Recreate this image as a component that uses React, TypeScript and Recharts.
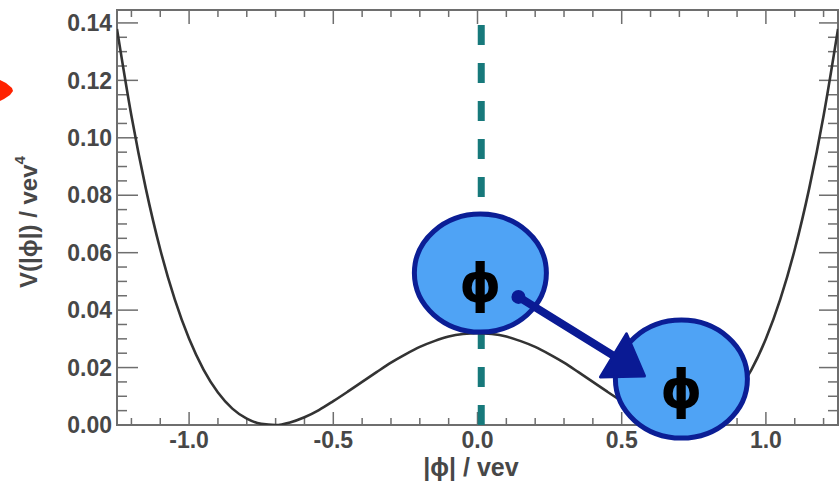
import { LineChart, Line, XAxis, YAxis, ReferenceLine, ReferenceArea, ReferenceDot } from 'recharts';

// field value |phi| / vev and the potential
const phiValues = [
  -1.25, -1.2, -1.15, -1.1, -1.05, -1.0, -0.95, -0.9, -0.85, -0.8, -0.75, -0.7, -0.65,
  -0.6, -0.55, -0.5, -0.45, -0.4, -0.35, -0.3, -0.25, -0.2, -0.15, -0.1, -0.05, 0,
  0.05, 0.1, 0.15, 0.2, 0.25, 0.3, 0.35, 0.4, 0.45, 0.5, 0.55, 0.6, 0.65, 0.7, 0.75,
  0.8, 0.85, 0.9, 0.95, 1.0, 1.05, 1.1, 1.15, 1.2, 1.25,
];
const potentialValues = [
  0.1379, 0.1077, 0.0823, 0.0611, 0.0438, 0.03, 0.0193, 0.0113, 0.0057, 0.0022, 0.0004, 0.0, 0.0009,
  0.0027, 0.0052, 0.0083, 0.0116, 0.015, 0.0184, 0.0217, 0.0246, 0.0272, 0.0292, 0.0308, 0.0317, 0.032,
  0.0317, 0.0308, 0.0292, 0.0272, 0.0246, 0.0217, 0.0184, 0.015, 0.0116, 0.0083, 0.0052, 0.0027, 0.0009, 0.0, 0.0004,
  0.0022, 0.0057, 0.0113, 0.0193, 0.03, 0.0438, 0.0611, 0.0823, 0.1077, 0.1379,
];

const xMajorTicks = [-1.0, -0.5, 0, 0.5, 1.0];
const xMinorTicks = [-1.2, -1.1, -0.9, -0.8, -0.7, -0.6, -0.4, -0.3, -0.2, -0.1, 0.1, 0.2, 0.3, 0.4, 0.6, 0.7, 0.8, 0.9, 1.1, 1.2];
const yMajorTicks = [0, 0.02, 0.04, 0.06, 0.08, 0.1, 0.12, 0.14];
const yMinorTicks = [
  0.005, 0.01, 0.015, 0.025, 0.03, 0.035, 0.045, 0.05, 0.055, 0.065, 0.07, 0.075,
  0.085, 0.09, 0.095, 0.105, 0.11, 0.115, 0.125, 0.13, 0.135,
];

// hand-drawn marker line sits a touch right of zero
const markerPhi = 0.013;

// annotation positions (data coords)
const bubbleBefore = { phi: 0.01, v: 0.0529 };
const bubbleAfter = { phi: 0.707, v: 0.016 };
const arrowFrom = { phi: 0.142, v: 0.0446 };

const X_MIN = -1.25;
const X_MAX = 1.25;
const Y_MAX = 0.1445;
const X_PER_PX = (X_MAX - X_MIN) / 721;
const Y_PER_PX = Y_MAX / 415;

const data = phiValues.map((phi, i) => ({ phi, v: potentialValues[i] }));

const FONT = '"Liberation Sans", Arial, sans-serif';
const TICK_STYLE = { fontSize: 23, fontWeight: 700, fill: '#474747', fontFamily: FONT };
const FRAME = '#6e6e6e';
const NAVY = '#0a1a94';

const Bubble = (props: any) => (
  <g>
    <ellipse cx={props.cx} cy={props.cy} rx={66} ry={59} fill="#4fa3f5" stroke="#0b1e95" strokeWidth={5} />
    <text
      x={props.cx}
      y={props.cy + 10}
      textAnchor="middle"
      dominantBaseline="central"
      fontSize={53}
      fontWeight={700}
      fontFamily='"DejaVu Sans", sans-serif'
      fill="#000"
    >
      ϕ
    </text>
  </g>
);

// drawn from the start dot; the head sits over the second bubble's rim
const Arrow = (props: any) => {
  const x1 = props.cx;
  const y1 = props.cy;
  const x2 = x1 + 105;
  const y2 = y1 + 65;
  return (
    <g>
      <line x1={x1} y1={y1} x2={x2} y2={y2} stroke={NAVY} strokeWidth={8} strokeLinecap="round" />
      <circle cx={x1} cy={y1} r={7} fill={NAVY} />
      <polygon
        points={`${x2 + 3},${y2 - 28} ${x2 - 23},${y2 + 15} ${x2 + 21},${y2 + 14}`}
        fill={NAVY}
        stroke={NAVY}
        strokeWidth={3}
        strokeLinejoin="round"
      />
    </g>
  );
};

const tickSeg = (key: string, pts: { x: number; y: number }[]) => (
  <ReferenceLine key={key} segment={pts} stroke={FRAME} strokeWidth={1.5} ifOverflow="visible" />
);

export default function App() {
  const ticks: any[] = [];
  yMajorTicks.forEach((t) => {
    ticks.push(tickSeg(`yl${t}`, [{ x: X_MIN, y: t }, { x: X_MIN + 21 * X_PER_PX, y: t }]));
    ticks.push(tickSeg(`yr${t}`, [{ x: X_MAX, y: t }, { x: X_MAX - 19 * X_PER_PX, y: t }]));
  });
  yMinorTicks.forEach((t) => {
    ticks.push(tickSeg(`yml${t}`, [{ x: X_MIN, y: t }, { x: X_MIN + 10 * X_PER_PX, y: t }]));
    ticks.push(tickSeg(`ymr${t}`, [{ x: X_MAX, y: t }, { x: X_MAX - 10 * X_PER_PX, y: t }]));
  });
  xMajorTicks.forEach((t) => {
    ticks.push(tickSeg(`xb${t}`, [{ x: t, y: 0 }, { x: t, y: 13 * Y_PER_PX }]));
    ticks.push(tickSeg(`xt${t}`, [{ x: t, y: Y_MAX }, { x: t, y: Y_MAX - 14 * Y_PER_PX }]));
  });
  xMinorTicks.forEach((t) => {
    ticks.push(tickSeg(`xmb${t}`, [{ x: t, y: 0 }, { x: t, y: 7 * Y_PER_PX }]));
    ticks.push(tickSeg(`xmt${t}`, [{ x: t, y: Y_MAX }, { x: t, y: Y_MAX - 7 * Y_PER_PX }]));
  });

  return (
    <div style={{ position: 'relative', width: 839, height: 486, background: '#fff' }}>
      <style>{'body{margin:0}'}</style>
      <LineChart width={839} height={486} data={data} margin={{ top: 10, right: 1, bottom: 0, left: 0 }}>
        <XAxis
          dataKey="phi"
          type="number"
          domain={[X_MIN, X_MAX]}
          ticks={xMajorTicks}
          tickFormatter={(v: number) => v.toFixed(1)}
          tick={TICK_STYLE}
          tickLine={false}
          axisLine={false}
          tickSize={0}
          tickMargin={7}
          height={61}
          allowDataOverflow
          label={{
            content: () => (
              <text x={471} y={476} textAnchor="middle" fontSize={25} fontWeight={700} fontFamily={FONT} fill="#474747">
                |ϕ| / vev
              </text>
            ),
          }}
        />
        <YAxis
          type="number"
          domain={[0, Y_MAX]}
          ticks={yMajorTicks}
          tickFormatter={(v: number) => v.toFixed(2)}
          tick={TICK_STYLE}
          tickLine={false}
          axisLine={false}
          tickSize={0}
          tickMargin={5}
          width={117}
          allowDataOverflow
          label={{
            content: () => (
              <text
                x={28}
                y={222}
                transform="rotate(-90 28 222)"
                textAnchor="middle"
                dominantBaseline="central"
                fontSize={24}
                fontWeight={700}
                fontFamily={FONT}
                fill="#474747"
              >
                V(|ϕ|) / vev
                <tspan dy={-9} fontSize={15}>4</tspan>
              </text>
            ),
          }}
        />
        <ReferenceArea x1={X_MIN} x2={X_MAX} y1={0} y2={Y_MAX} fill="none" stroke={FRAME} strokeWidth={2} ifOverflow="visible" />
        {ticks}
        <ReferenceLine x={markerPhi} stroke="#17797b" strokeWidth={7} strokeDasharray="20 18" />
        <Line type="monotone" dataKey="v" stroke="#333" strokeWidth={2.6} dot={false} isAnimationActive={false} />
        <ReferenceDot x={bubbleBefore.phi} y={bubbleBefore.v} shape={Bubble} ifOverflow="visible" />
        <ReferenceDot x={bubbleAfter.phi} y={bubbleAfter.v} shape={Bubble} ifOverflow="visible" />
        <ReferenceDot x={arrowFrom.phi} y={arrowFrom.v} shape={Arrow} ifOverflow="visible" />
      </LineChart>
      <svg style={{ position: 'absolute', left: 0, top: 0 }} width={20} height={120}>
        <polygon points="0,80 6,83 12,88 13,91 10,95 4,99 0,101" fill="#ff2200" />
      </svg>
    </div>
  );
}
